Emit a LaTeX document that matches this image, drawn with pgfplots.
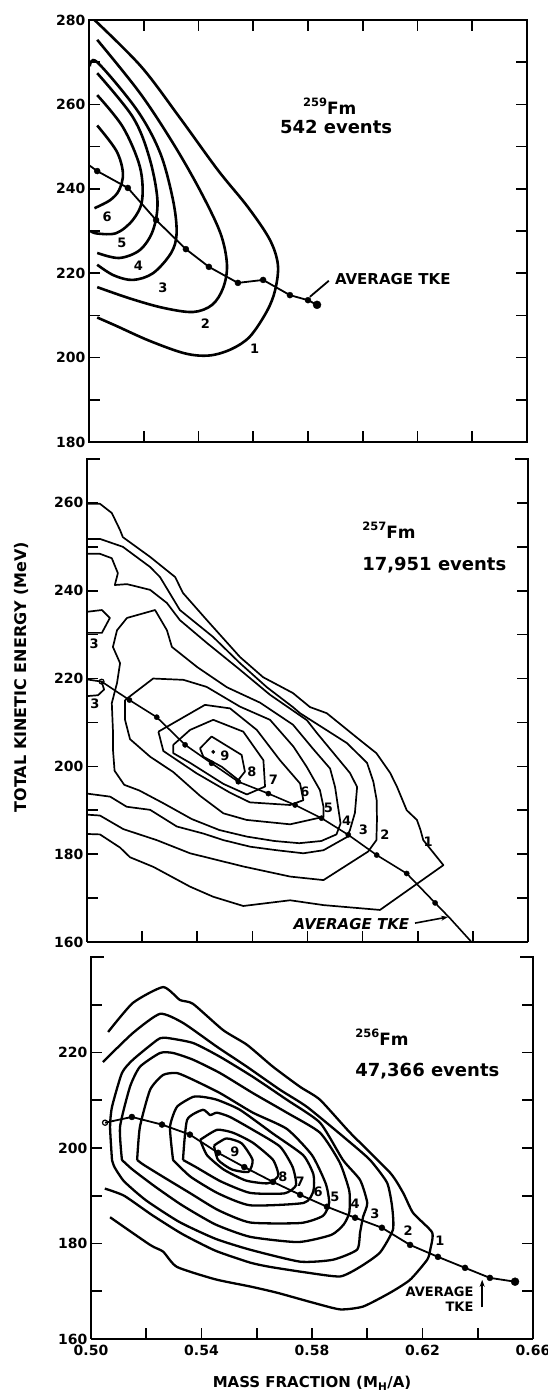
\documentclass[border=0pt]{standalone}
\usepackage{fontspec}
\setmainfont{DejaVu Sans}
\usepackage{pgfplots}
\pgfplotsset{compat=1.18}
\usetikzlibrary{arrows.meta}
\newcommand{\fs}[1]{\fontsize{#1}{#1}\selectfont}
\tikzset{clab/.style={font=\bfseries\fs{13}, inner sep=0.5pt}}
\pgfplotsset{
  panel/.style={
    scale only axis, anchor=south west, clip=false,
    xmin=0.50, xmax=0.66,
    xtick={0.50,0.52,0.54,0.56,0.58,0.60,0.62,0.64,0.66},
    tick align=inside,
    major tick length=11pt,
    tick style={black, line width=1.7pt},
    axis line style={black, line width=2.4pt},
    tick label style={font=\bfseries\fs{14}},
    xticklabel style={yshift=-3pt},
    /pgf/number format/assume math mode=true,
  },
  ctop/.style={black, line width=2.6pt, smooth, tension=0.55},
  cmid/.style={black, line width=1.7pt, line join=round},
  cbot/.style={black, line width=2.3pt, smooth, tension=0.35, line join=round},
  tke/.style={black, line width=1.8pt},
  dots/.style={black, only marks, mark=*, mark size=3pt},
}
\begin{document}
\begin{tikzpicture}
\path[use as bounding box] (0,0) rectangle (548pt,1392pt);
% ---------------- TOP: 259Fm ----------------
\begin{axis}[panel, at={(89pt,950pt)}, width=438pt, height=422pt,
  ymin=180, ymax=280, ytick={180,190,...,280},
  yticklabels={180,,200,,220,,240,,260,,280}, xticklabels={}]
\addplot[ctop] coordinates {(0.502,280)(0.519,269)(0.533,257)(0.547,244.5)(0.558,235.7)(0.566,228)(0.569,222)(0.568,216)(0.565,211)(0.5588,205)(0.552,202)(0.544,200.5)(0.535,201)(0.522,204)(0.510,207.5)(0.503,209.5)};
\addplot[ctop] coordinates {(0.503,275.3)(0.5186,262.7)(0.5307,250.8)(0.5405,239.7)(0.548,229.5)(0.5504,222)(0.549,216.5)(0.545,212.5)(0.538,210.8)(0.527,211.8)(0.515,214)(0.503,216.7)};
\addplot[ctop] coordinates {(0.5003,269)(0.503,270)(0.5175,258.7)(0.526,248.5)(0.5307,237.3)(0.532,229.5)(0.530,224.8)(0.5234,220)(0.516,218.4)(0.509,219.5)(0.503,222)};
\addplot[ctop] coordinates {(0.503,267.4)(0.516,257)(0.522,247.5)(0.525,237.3)(0.5234,230.2)(0.5186,225.5)(0.511,223.6)(0.503,224.8)};
\addplot[ctop] coordinates {(0.503,262.2)(0.5124,254.6)(0.5186,245.2)(0.5194,237.3)(0.516,232.6)(0.510,229.5)(0.503,229.4)(0.5005,230)};
\addplot[ctop] coordinates {(0.503,255)(0.510,249)(0.5124,243.7)(0.511,239.7)(0.5077,237.3)(0.502,235.4)};
\addplot[tke] coordinates {(0.500,245.6)(0.503,244.2)(0.5142,240.2)(0.5245,232.6)(0.5354,225.7)(0.5438,221.5)(0.5544,217.7)(0.5636,218.4)(0.5734,214.8)(0.580,213.6)(0.5833,212.5)};
\addplot[dots] coordinates {(0.503,244.2)(0.5142,240.2)(0.5245,232.6)(0.5354,225.7)(0.5438,221.5)(0.5544,217.7)(0.5636,218.4)(0.5734,214.8)(0.580,213.6)};
\addplot[dots, mark size=4pt] coordinates {(0.5833,212.5)};
\node[clab] at (axis cs:0.5066,233.4) {6};
\node[clab] at (axis cs:0.5120,227.1) {5};
\node[clab] at (axis cs:0.5180,221.8) {4};
\node[clab] at (axis cs:0.5270,216.6) {3};
\node[clab] at (axis cs:0.5425,208.1) {2};
\node[clab] at (axis cs:0.5605,202.1) {1};
\draw[line width=1.8pt] (axis cs:0.5807,214.4) -- (axis cs:0.5876,218.2);
\node[anchor=west, font=\bfseries\fs{15}, inner sep=0pt] at (axis cs:0.5898,218.6) {AVERAGE TKE};
\node[anchor=base west, font=\bfseries\fs{17}, inner sep=0pt] at (axis cs:0.5781,257.7) {\raisebox{8pt}{\fs{11.5}259}Fm};
\node[anchor=base west, font=\bfseries\fs{18}, inner sep=0pt] at (axis cs:0.5697,253.0) {542 events};
\end{axis}
% ---------------- MIDDLE: 257Fm ----------------
\begin{axis}[panel, at={(87pt,450pt)}, width=441pt, height=483pt,
  ymin=160, ymax=270, ytick={160,170,...,270},
  yticklabels={160,,180,,200,,220,,240,,260,}, xticklabels={},
  axis x line*=bottom, axis y line*=box]
% level 1
\addplot[cmid] coordinates {(0.500,259.8)(0.5047,259.8)(0.509,257.7)(0.512,253.8)(0.513,252.2)(0.5229,247.7)(0.532,243.1)(0.5348,239.5)(0.5435,233.3)(0.5555,224.9)(0.5639,220.3)(0.5747,216.7)(0.5809,213.5)(0.587,212.1)(0.599,206)(0.605,203)(0.610,198.5)(0.6125,195.3)(0.616,190)(0.6197,187.8)(0.621,185.5)(0.622,183.2)(0.6293,177.5)(0.6063,167.3)(0.5858,168.4)(0.5737,169.5)(0.5567,168.2)(0.5458,170.3)(0.5374,172.6)(0.5241,177.1)(0.5156,179.3)(0.512,181.5)(0.5047,184.5)(0.500,184.6)};
% level 2
\addplot[cmid] coordinates {(0.500,251.8)(0.5047,251.8)(0.513,250)(0.5229,245.4)(0.5265,243.1)(0.5337,235.6)(0.5457,229.5)(0.5555,223.5)(0.5653,218)(0.5747,213.5)(0.5773,212.1)(0.5943,205.3)(0.6016,200.8)(0.6039,196.5)(0.6051,192.3)(0.6052,187.8)(0.6050,183.2)(0.602,180.6)(0.5858,174.1)(0.5737,174.9)(0.5567,177.2)(0.5374,180.2)(0.5253,183.2)(0.5132,185.7)(0.5047,188.8)(0.500,189.0)};
% level 3
\addplot[cmid] coordinates {(0.500,248.4)(0.5047,248.4)(0.509,247.4)(0.5112,244)(0.5101,241.3)(0.5145,241.5)(0.5229,240.2)(0.529,237.2)(0.5337,233.3)(0.5435,228.1)(0.5555,222)(0.5664,216.3)(0.5798,210.5)(0.5834,207.6)(0.5954,198.5)(0.598,195.3)(0.5972,189.4)(0.5954,185.5)(0.5943,183.9)(0.5858,180.9)(0.5785,180.2)(0.5688,180.9)(0.5592,181.7)(0.5495,183.2)(0.5422,184.7)(0.5326,186.3)(0.5229,190.1)(0.5144,190.8)(0.5084,193.1)(0.500,193.8)};
\addplot[cmid] coordinates {(0.500,235.2)(0.5054,235.6)(0.5083,233.8)(0.5054,230.4)(0.500,230.4)};
\addplot[cmid] coordinates {(0.500,219.8)(0.5053,219.3)(0.5062,217.5)(0.5040,216.2)(0.500,216.0)};
% level 4
\addplot[cmid] coordinates {(0.5145,233.8)(0.5247,235.6)(0.529,231)(0.5308,227.2)(0.54,222.6)(0.5508,218)(0.5628,214.5)(0.5747,209.5)(0.582,204)(0.5882,199.5)(0.590,195.3)(0.5911,190.7)(0.592,187)(0.5905,184.5)(0.585,183)(0.577,182.5)(0.568,183)(0.558,184)(0.548,185.5)(0.538,188)(0.528,191.5)(0.519,194.5)(0.5135,195.8)(0.5100,199)(0.5094,204)(0.5094,208.3)(0.509,214.4)(0.5109,219)(0.512,223.5)(0.5094,227.2)(0.5109,231)(0.5145,233.8)};
% level 5
\addplot[cmid] coordinates {(0.5138,215.1)(0.524,220.0)(0.5350,219.7)(0.5434,218.1)(0.5555,213.6)(0.5664,210.6)(0.5749,204.5)(0.5797,199.9)(0.5845,194.6)(0.5858,190.8)(0.5858,188.5)(0.5737,186.8)(0.5579,187.8)(0.5495,189.3)(0.541,193.3)(0.5313,198.7)(0.5229,202.2)(0.5156,206.2)(0.5138,210.6)(0.5138,215.1)};
% level 6
\addplot[cmid] coordinates {(0.5259,207.9)(0.5428,214)(0.5519,213.2)(0.5616,208.3)(0.57,201.4)(0.5773,196.1)(0.5785,192.3)(0.5737,191.2)(0.5591,191.8)(0.5519,194)(0.5398,198.4)(0.5277,203.5)(0.5259,207.9)};
% level 7
\addplot[cmid] coordinates {(0.5313,204.9)(0.5374,208.3)(0.5458,210.6)(0.5567,207.9)(0.564,201.4)(0.5646,195.4)(0.558,193.6)(0.5495,196)(0.5374,200.8)(0.5313,203)(0.5313,204.9)};
% level 8
\addplot[cmid] coordinates {(0.541,204.1)(0.5452,206.8)(0.5561,202.6)(0.5573,198.8)(0.5549,196.9)(0.5489,199.9)(0.5422,202.2)(0.541,204.1)};
% average TKE
\addplot[tke, line width=1.6pt] coordinates {(0.5053,219.3)(0.5154,215.1)(0.5253,211.2)(0.5356,204.9)(0.5452,200.7)(0.5549,196.5)(0.5658,193.8)(0.5755,191.2)(0.5851,188.2)(0.5948,184.4)(0.6051,179.8)(0.616,175.6)(0.6263,168.9)(0.6317,165.4)(0.6395,160)};
\addplot[dots, mark size=2.6pt] coordinates {(0.5154,215.1)(0.5253,211.2)(0.5356,204.9)(0.5452,200.7)(0.5549,196.5)(0.5658,193.8)(0.5755,191.2)(0.5851,188.2)(0.5948,184.4)(0.6051,179.8)(0.616,175.6)(0.6263,168.9)};
\addplot[dots, mark size=1.7pt] coordinates {(0.5458,203.3)};
\addplot[black, only marks, mark=o, mark size=2.4pt, line width=1.2pt, mark options={fill=white}] coordinates {(0.5053,219.3)};
\node[clab] at (axis cs:0.5500,202.4) {9};
\node[clab] at (axis cs:0.5598,198.8) {8};
\node[clab] at (axis cs:0.5676,196.9) {7};
\node[clab] at (axis cs:0.5791,194.3) {6};
\node[clab] at (axis cs:0.5876,190.5) {5};
\node[clab] at (axis cs:0.5942,187.5) {4};
\node[clab] at (axis cs:0.6003,185.5) {3};
\node[clab] at (axis cs:0.6081,184.4) {2};
\node[clab] at (axis cs:0.6238,182.8) {1};
\node[clab] at (axis cs:0.5026,227.9) {3};
\node[clab] at (axis cs:0.5029,214.2) {3};
\draw[line width=1.6pt, -{Stealth[length=7pt,width=5pt]}] (axis cs:0.6190,164.3) -- (axis cs:0.6310,165.7);
\node[anchor=west, font=\bfseries\itshape\fs{15}, inner sep=0pt] at (axis cs:0.5749,164.2) {AVERAGE TKE};
\node[anchor=base west, font=\bfseries\fs{17}, inner sep=0pt] at (axis cs:0.5998,252.0) {\raisebox{8pt}{\fs{11.5}257}Fm};
\node[anchor=base west, font=\bfseries\fs{18}, inner sep=0pt] at (axis cs:0.5998,244.7) {17,951 events};
\draw[line width=2.4pt, line cap=rect] (rel axis cs:0,1) -- ++(12pt,0pt);
\draw[line width=2.4pt, line cap=rect] (rel axis cs:1,1) -- ++(-12pt,0pt);
\end{axis}
% ---------------- BOTTOM: 256Fm ----------------
\begin{axis}[panel, at={(91pt,53pt)}, width=442pt, height=382pt,
  ymin=160, ymax=240, ytick={160,170,...,240},
  yticklabels={160,,180,,200,,220,,}, xticklabels={0.50,,0.54,,0.58,,0.62,,0.66},
  axis x line*=bottom, axis y line*=box]
\addplot[cbot] coordinates {(0.5062,224.3)(0.5152,230.4)(0.5261,233.7)(0.5322,231)(0.5369,230.2)(0.5478,224.7)(0.5565,221.6)(0.5659,217)(0.5757,212.8)(0.5829,210.1)(0.5938,203.2)(0.6083,194.8)(0.6130,190.6)(0.6166,186.4)(0.6235,182.3)(0.6228,178.7)(0.6217,176.6)(0.6155,172.4)(0.6083,169.7)(0.5985,166.8)(0.5902,166.2)(0.5804,167.6)(0.5673,169.7)(0.5576,171)(0.545,172.5)(0.5311,175.1)(0.5261,178.3)(0.5214,179.7)(0.5069,185.5)};
\addplot[cbot] coordinates {(0.5043,218)(0.5152,224.1)(0.525,228.1)(0.5333,226.2)(0.5456,221.2)(0.5565,217)(0.5684,212.2)(0.5782,208.6)(0.5927,201.7)(0.601,197.5)(0.6072,192.7)(0.609,187.7)(0.6093,182.9)(0.6046,178.1)(0.5974,175.1)(0.5902,173.1)(0.5782,173.9)(0.5648,175.1)(0.5576,176)(0.545,178.5)(0.533,182)(0.522,186)(0.512,190)(0.505,191.5)};
\addplot[cbot] coordinates {(0.5076,197.5)(0.5069,204.4)(0.5076,208.6)(0.5112,215.7)(0.5152,218.5)(0.5239,222.6)(0.5268,223.1)(0.5369,222)(0.5467,219.1)(0.5586,214.9)(0.5709,210.1)(0.5829,205.3)(0.5912,197.5)(0.5974,193.3)(0.600,188.5)(0.5985,185.6)(0.5974,182.3)(0.5963,178.7)(0.5876,176.6)(0.5757,176.2)(0.5576,178.7)(0.545,181)(0.532,184.5)(0.520,189)(0.512,193)(0.5085,196)(0.5076,197.5)};
\addplot[cbot] coordinates {(0.5112,197.5)(0.5105,204.4)(0.5141,212.8)(0.5177,217)(0.525,219.9)(0.5297,219.9)(0.5369,218.5)(0.5467,215.7)(0.5586,211.5)(0.5709,207.4)(0.5829,203.2)(0.590,197)(0.5935,191)(0.5935,186.5)(0.5915,184)(0.587,181.8)(0.575,180.3)(0.5576,181.4)(0.545,184)(0.533,188)(0.523,192)(0.515,195.5)(0.5112,197.5)};
\addplot[cbot] coordinates {(0.5167,197.5)(0.5177,204.4)(0.5214,212.2)(0.5261,215.3)(0.5311,215.7)(0.5369,214.3)(0.5467,211.5)(0.5586,207.4)(0.5709,204)(0.580,198.5)(0.585,192.5)(0.5862,188.5)(0.584,185.8)(0.576,184.3)(0.5576,184.4)(0.546,187)(0.536,190.5)(0.526,194)(0.519,196.5)(0.5167,197.5)};
\addplot[cbot] coordinates {(0.5297,197.5)(0.5286,204.4)(0.5311,208.6)(0.5369,210.7)(0.5405,210.7)(0.5456,210.1)(0.5539,208)(0.5659,203)(0.5768,198.5)(0.5805,194.5)(0.5805,191)(0.577,188.5)(0.5576,188)(0.546,190.5)(0.536,194)(0.5297,197.5)};
\addplot[cbot] coordinates {(0.5333,197.5)(0.5348,205.9)(0.5405,208)(0.5431,206.9)(0.5456,207.4)(0.5503,206.5)(0.5586,203.8)(0.5684,200.3)(0.573,196)(0.5742,192.2)(0.570,190.5)(0.5576,190.6)(0.547,193)(0.538,196)(0.5333,197.5)};
\addplot[cbot] coordinates {(0.5395,201.7)(0.5456,203.8)(0.5514,203.2)(0.5586,201.1)(0.5659,197.5)(0.5678,194.2)(0.564,192.6)(0.556,193.2)(0.548,195.5)(0.542,198.5)(0.5395,201.7)};
\addplot[cbot] coordinates {(0.5445,200.5)(0.549,202)(0.5545,201)(0.5585,197.5)(0.557,195)(0.551,195.5)(0.546,197.5)(0.5445,200.5)};
\addplot[tke] coordinates {(0.5051,205.3)(0.5148,206.5)(0.5257,204.9)(0.5358,202.8)(0.546,199)(0.5555,196)(0.5659,192.9)(0.5757,190.2)(0.5854,187.7)(0.5956,185.4)(0.6053,183.3)(0.6155,179.7)(0.6256,177.2)(0.6354,174.9)(0.6444,172.8)(0.6535,172)};
\addplot[dots] coordinates {(0.5148,206.5)(0.5257,204.9)(0.5358,202.8)(0.546,199)(0.5555,196)(0.5659,192.9)(0.5757,190.2)(0.5854,187.7)(0.5956,185.4)(0.6053,183.3)(0.6155,179.7)(0.6256,177.2)(0.6354,174.9)(0.6444,172.8)};
\addplot[dots, mark size=4pt] coordinates {(0.6535,172)};
\addplot[black, only marks, mark=o, mark size=2.6pt, line width=1.2pt, mark options={fill=white}] coordinates {(0.5051,205.3)};
\node[clab] at (axis cs:0.5521,199.2) {9};
\node[clab] at (axis cs:0.5695,194.0) {8};
\node[clab] at (axis cs:0.5757,192.9) {7};
\node[clab] at (axis cs:0.5822,190.8) {6};
\node[clab] at (axis cs:0.5883,189.8) {5};
\node[clab] at (axis cs:0.5956,188.3) {4};
\node[clab] at (axis cs:0.6028,186.2) {3};
\node[clab] at (axis cs:0.6148,182.7) {2};
\node[clab] at (axis cs:0.6263,180.6) {1};
\draw[line width=1.7pt, -{Stealth[length=7pt,width=5pt]}] (axis cs:0.6416,166.6) -- (axis cs:0.6416,172.4);
\node[anchor=north east, align=right, font=\bfseries\fs{13}, inner sep=0pt] at (axis cs:0.6385,171.0) {AVERAGE\\[2pt]TKE};
\node[anchor=base west, font=\bfseries\fs{17}, inner sep=0pt] at (axis cs:0.5956,221.4) {\raisebox{8pt}{\fs{11.5}256}Fm};
\node[anchor=base west, font=\bfseries\fs{18}, inner sep=0pt] at (axis cs:0.5956,214.9) {47,366 events};
\draw[line width=2.4pt, line cap=rect] (rel axis cs:0,1) -- ++(12pt,0pt);
\draw[line width=2.4pt, line cap=rect] (rel axis cs:1,1) -- ++(-12pt,0pt);
\end{axis}
\node[rotate=90, font=\bfseries\fs{16}] at (21pt,715pt) {TOTAL KINETIC ENERGY (MeV)};
\node[font=\bfseries\fs{15}] at (312pt,9pt) {MASS FRACTION (M\textsubscript{H}/A)};
\end{tikzpicture}
\end{document}
